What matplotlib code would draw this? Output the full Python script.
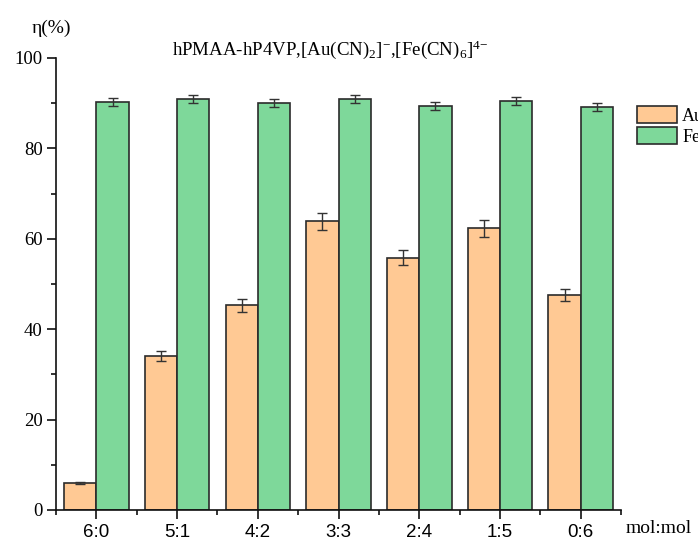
import matplotlib
matplotlib.use('Agg')
import matplotlib.pyplot as plt
import numpy as np

ratios = ['6:0', '5:1', '4:2', '3:3', '2:4', '1:5', '0:6']
au = [5.9, 34.1, 45.3, 63.9, 55.8, 62.3, 47.6]
au_err = [0.2, 1.1, 1.4, 1.9, 1.7, 1.9, 1.4]
fe = [90.3, 90.9, 90.0, 91.0, 89.4, 90.5, 89.2]
fe_err = [0.9, 0.95, 0.9, 0.9, 0.95, 0.95, 0.95]

SERIF = 'Liberation Serif'
SANS = 'Liberation Sans'
BAR_WIDTH = 0.4

plt.rcParams['mathtext.fontset'] = 'custom'
plt.rcParams['mathtext.rm'] = SERIF
plt.rcParams['mathtext.default'] = 'regular'

fig = plt.figure(figsize=(6.98, 5.42), dpi=100)
ax = fig.add_axes([56 / 698, 1 - 510 / 542, 565 / 698, 452 / 542])

x = np.arange(1, len(ratios) + 1)
ax.bar(x - BAR_WIDTH / 2, au, BAR_WIDTH, yerr=au_err, color='#ffc994', edgecolor='#2b2b2b',
       linewidth=1.2, label='Au', error_kw=dict(ecolor='#333333', elinewidth=1, capsize=3.3, capthick=1))
ax.bar(x + BAR_WIDTH / 2, fe, BAR_WIDTH, yerr=fe_err, color='#7ed89a', edgecolor='#2b2b2b',
       linewidth=1.2, label='Fe', error_kw=dict(ecolor='#333333', elinewidth=1, capsize=3.3, capthick=1))

ax.set_xlim(0.5, 7.5)
ax.set_ylim(0, 100)
ax.spines['top'].set_visible(False)
ax.spines['right'].set_visible(False)
for s in ('left', 'bottom'):
    ax.spines[s].set_linewidth(1.2)
    ax.spines[s].set_color('#111111')

ax.set_xticks(x)
ax.set_xticklabels(ratios, fontfamily=SANS, fontsize=13.5)
ax.set_xticks(np.arange(0.5, 8, 1), minor=True)
ax.set_yticks(np.arange(0, 101, 20))
ax.set_yticks(np.arange(10, 100, 20), minor=True)
ax.set_yticklabels([str(v) for v in range(0, 101, 20)], fontfamily=SERIF, fontsize=13.5)
ax.tick_params(which='major', direction='out', length=6.5, width=1.2, color='#111111', pad=3)
ax.tick_params(which='minor', direction='out', length=3.5, width=1.2, color='#111111')
ax.tick_params(axis='x', which='major', pad=3.5)

fig.text(51 / 698, 1 - 33 / 542, 'η(%)', ha='center', va='baseline', fontfamily=SERIF, fontsize=14)
fig.text(330 / 698, 1 - 55 / 542, 'hPMAA-hP4VP,[Au(CN)$_2$]$^{{-}}$,[Fe(CN)$_6$]$^{4{-}}$',
         ha='center', va='baseline', fontfamily=SERIF, fontsize=13.6)
fig.text(626 / 698, 1 - 533 / 542, 'mol:mol', ha='left', va='baseline', fontfamily=SERIF, fontsize=14)

leg = ax.legend(loc='upper left', bbox_to_anchor=(637 / 698, 1 - 106 / 542), bbox_transform=fig.transFigure,
                frameon=False, borderpad=0, borderaxespad=0, handlelength=2.2, handleheight=1.05,
                labelspacing=0.15, handletextpad=0.3, prop={'family': SERIF, 'size': 13})

fig.savefig('out.png', dpi=100)
